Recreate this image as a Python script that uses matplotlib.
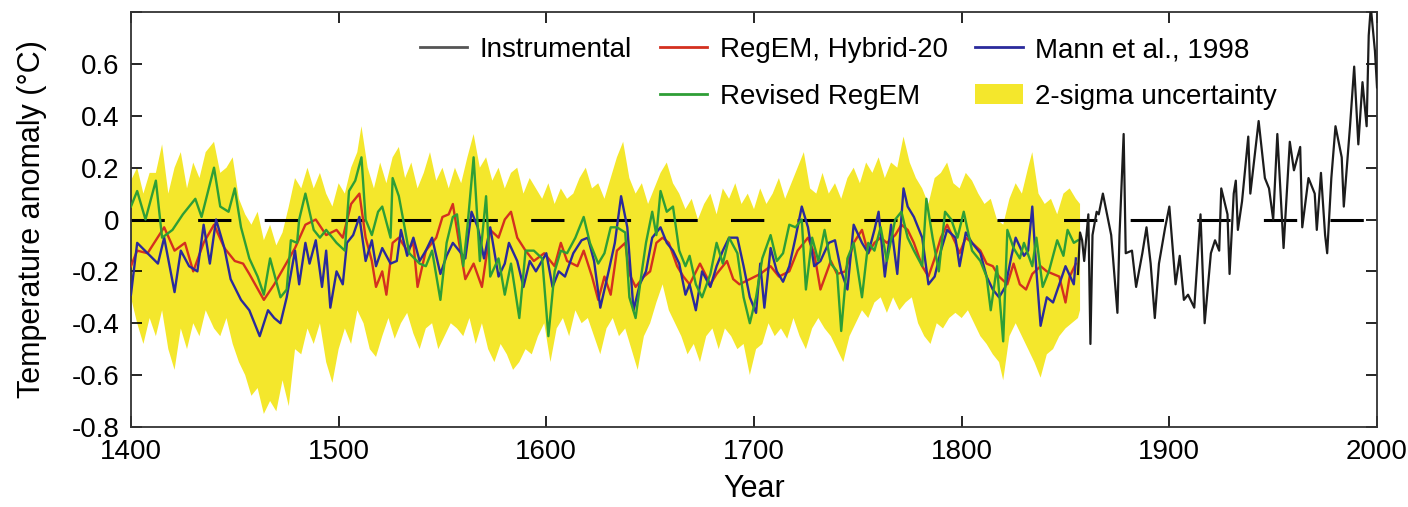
import numpy as np
import matplotlib
matplotlib.use("Agg")
import matplotlib.pyplot as plt
from matplotlib.lines import Line2D
from matplotlib.patches import Patch

plt.rcParams['font.family'] = ['Liberation Sans', 'DejaVu Sans']

# (year, anomaly) pairs
mann_1998 = [
    (1400, -0.29), (1403, -0.09), (1408, -0.13), (1413, -0.17), (1416, -0.07), (1421, -0.28),
    (1424, -0.12), (1428, -0.18), (1432, -0.20), (1435, -0.02), (1438, -0.17), (1441, 0.00),
    (1445, -0.11), (1448, -0.23), (1453, -0.31), (1457, -0.35), (1462, -0.45), (1466, -0.35),
    (1469, -0.38), (1472, -0.40), (1475, -0.30), (1479, -0.12), (1481, -0.25), (1484, -0.09),
    (1486, -0.17), (1489, -0.08), (1492, -0.26), (1494, -0.12), (1496, -0.34), (1499, -0.20),
    (1502, -0.25), (1504, -0.09), (1507, -0.06), (1510, 0.01), (1513, -0.16), (1516, -0.08),
    (1518, -0.18), (1521, -0.11), (1525, -0.17), (1528, -0.16), (1530, -0.04), (1533, -0.14),
    (1536, -0.07), (1539, -0.16), (1542, -0.12), (1545, -0.07), (1549, -0.21), (1552, -0.14),
    (1555, -0.09), (1558, -0.12), (1561, -0.15), (1564, 0.03), (1567, -0.03), (1570, -0.15),
    (1573, -0.03), (1577, -0.22), (1580, -0.17), (1582, -0.09), (1586, -0.16), (1589, -0.26),
    (1592, -0.16), (1595, -0.20), (1600, -0.13), (1603, -0.26), (1606, -0.20), (1609, -0.22),
    (1613, -0.13), (1617, -0.08), (1620, -0.07), (1623, -0.16), (1626, -0.34), (1630, -0.20),
    (1633, -0.09), (1636, 0.09), (1639, -0.03), (1642, -0.35), (1645, -0.25), (1648, -0.20),
    (1651, -0.07), (1655, -0.03), (1658, -0.09), (1661, -0.12), (1664, -0.17), (1667, -0.29),
    (1669, -0.25), (1672, -0.35), (1675, -0.20), (1679, -0.26), (1682, -0.18), (1685, -0.12),
    (1688, -0.07), (1692, -0.07), (1695, -0.18), (1698, -0.30), (1701, -0.36), (1703, -0.17),
    (1705, -0.34), (1708, -0.11), (1711, -0.20), (1714, -0.24), (1717, -0.18), (1720, -0.07),
    (1723, 0.05), (1726, -0.03), (1729, -0.18), (1732, -0.16), (1736, -0.09), (1739, -0.08),
    (1742, -0.20), (1745, -0.27), (1748, -0.02), (1752, -0.09), (1755, -0.13), (1758, -0.04),
    (1760, 0.03), (1763, -0.22), (1766, -0.02), (1769, -0.21), (1772, 0.12), (1774, 0.05),
    (1777, 0.01), (1781, -0.07), (1784, -0.25), (1787, -0.22), (1790, -0.12), (1793, -0.04),
    (1797, -0.07), (1799, -0.18), (1802, -0.05), (1805, -0.09), (1809, -0.13), (1812, -0.22),
    (1815, -0.27), (1818, -0.30), (1821, -0.26), (1824, -0.14), (1826, -0.07), (1830, -0.14),
    (1832, -0.12), (1834, 0.05), (1836, -0.20), (1838, -0.41), (1841, -0.30), (1844, -0.32),
    (1847, -0.25), (1850, -0.18), (1854, -0.25), (1855, -0.15),
]

regem_h20 = [
    (1400, -0.18), (1403, -0.12), (1408, -0.13), (1412, -0.08), (1416, -0.03), (1421, -0.12),
    (1426, -0.09), (1430, -0.20), (1435, -0.09), (1440, -0.02), (1445, -0.11), (1450, -0.16),
    (1454, -0.17), (1457, -0.21), (1464, -0.31), (1469, -0.25), (1474, -0.18), (1479, -0.11),
    (1484, -0.02), (1489, 0.00), (1494, -0.06), (1499, -0.04), (1502, -0.07), (1506, 0.06),
    (1510, 0.10), (1513, -0.07), (1516, -0.16), (1518, -0.26), (1521, -0.20), (1523, -0.29),
    (1526, -0.09), (1529, -0.07), (1533, -0.12), (1536, -0.09), (1538, -0.26), (1542, -0.12),
    (1547, -0.07), (1550, 0.01), (1553, 0.02), (1555, 0.06), (1558, -0.09), (1561, -0.23),
    (1565, -0.17), (1569, -0.26), (1573, -0.04), (1577, -0.07), (1580, 0.00), (1583, 0.03),
    (1586, -0.07), (1590, -0.12), (1594, -0.16), (1599, -0.13), (1604, -0.18), (1607, -0.09),
    (1610, -0.16), (1615, -0.18), (1618, -0.12), (1622, -0.22), (1625, -0.31), (1628, -0.22),
    (1631, -0.29), (1634, -0.12), (1638, -0.09), (1640, -0.21), (1643, -0.26), (1647, -0.22),
    (1650, -0.20), (1653, -0.09), (1656, -0.07), (1659, -0.09), (1663, -0.18), (1666, -0.22),
    (1669, -0.25), (1674, -0.17), (1679, -0.25), (1682, -0.21), (1687, -0.16), (1690, -0.23),
    (1693, -0.25), (1698, -0.23), (1703, -0.21), (1708, -0.18), (1712, -0.22), (1717, -0.20),
    (1721, -0.12), (1726, -0.07), (1729, -0.13), (1732, -0.27), (1737, -0.16), (1740, -0.21),
    (1744, -0.20), (1748, -0.09), (1752, -0.04), (1755, -0.13), (1758, -0.09), (1761, -0.07),
    (1764, -0.09), (1768, -0.06), (1771, -0.02), (1774, -0.04), (1777, -0.09), (1781, -0.18),
    (1784, -0.22), (1787, -0.15), (1790, -0.07), (1793, -0.02), (1797, -0.09), (1799, -0.13),
    (1802, -0.07), (1805, -0.09), (1809, -0.12), (1812, -0.17), (1815, -0.18), (1818, -0.22),
    (1822, -0.25), (1825, -0.17), (1828, -0.25), (1831, -0.27), (1834, -0.21), (1838, -0.18),
    (1841, -0.20), (1844, -0.21), (1847, -0.22), (1850, -0.32), (1852, -0.22), (1855, -0.17),
]

regem_revised = [
    (1400, 0.05), (1403, 0.11), (1407, 0.00), (1412, 0.15), (1415, -0.07), (1420, -0.04),
    (1425, 0.02), (1431, 0.08), (1434, 0.01), (1440, 0.20), (1443, 0.05), (1447, 0.03),
    (1450, 0.12), (1453, -0.03), (1457, -0.15), (1461, -0.22), (1464, -0.29), (1467, -0.15),
    (1472, -0.30), (1475, -0.27), (1477, -0.08), (1480, -0.09), (1481, 0.00), (1484, 0.10),
    (1488, -0.04), (1491, -0.07), (1494, -0.04), (1499, -0.09), (1503, -0.12), (1505, 0.11),
    (1508, 0.15), (1511, 0.24), (1513, 0.00), (1516, -0.06), (1519, 0.03), (1521, 0.05),
    (1525, -0.07), (1526, 0.16), (1529, 0.09), (1532, -0.04), (1534, -0.13), (1539, -0.17),
    (1542, -0.18), (1545, -0.12), (1549, -0.31), (1552, -0.09), (1555, 0.01), (1557, 0.02),
    (1560, -0.18), (1562, -0.03), (1565, 0.24), (1568, -0.16), (1571, 0.09), (1573, -0.22),
    (1577, -0.15), (1580, -0.29), (1583, -0.17), (1587, -0.38), (1590, -0.12), (1594, -0.12),
    (1598, -0.15), (1601, -0.45), (1604, -0.20), (1607, -0.12), (1610, -0.13), (1614, -0.07),
    (1618, 0.01), (1621, -0.09), (1625, -0.17), (1628, -0.13), (1631, -0.03), (1634, -0.03),
    (1638, -0.05), (1640, -0.30), (1643, -0.38), (1646, -0.20), (1648, -0.09), (1651, 0.03),
    (1653, -0.06), (1655, 0.11), (1658, 0.03), (1661, 0.05), (1664, -0.12), (1667, -0.18),
    (1669, -0.14), (1672, -0.25), (1675, -0.30), (1679, -0.21), (1682, -0.09), (1685, -0.17),
    (1688, -0.07), (1692, -0.13), (1695, -0.30), (1698, -0.40), (1701, -0.30), (1704, -0.15),
    (1708, -0.06), (1711, -0.16), (1714, -0.13), (1717, -0.02), (1720, -0.03), (1723, 0.00),
    (1725, -0.27), (1728, -0.07), (1731, -0.16), (1734, -0.04), (1737, -0.17), (1740, -0.20),
    (1742, -0.43), (1745, -0.15), (1748, -0.09), (1752, -0.30), (1755, -0.09), (1758, -0.12),
    (1761, -0.03), (1764, -0.16), (1768, 0.00), (1771, 0.03), (1774, -0.07), (1777, -0.12),
    (1781, -0.18), (1783, 0.08), (1786, -0.07), (1789, -0.20), (1792, 0.03), (1795, 0.00),
    (1798, -0.07), (1801, 0.03), (1805, -0.12), (1809, -0.16), (1812, -0.22), (1814, -0.35),
    (1817, -0.18), (1820, -0.47), (1822, -0.04), (1825, -0.11), (1828, -0.15), (1830, -0.09),
    (1834, -0.18), (1836, -0.07), (1839, -0.26), (1842, -0.20), (1846, -0.08), (1849, -0.14),
    (1851, -0.04), (1854, -0.09), (1856, -0.08),
]

instrumental = [
    (1856, -0.21), (1857, -0.05), (1858, -0.08), (1859, -0.16), (1861, 0.02), (1862, -0.48),
    (1863, -0.06), (1865, 0.03), (1866, 0.02), (1868, 0.10), (1870, 0.02), (1872, -0.06),
    (1875, -0.36), (1876, -0.06), (1878, 0.33), (1879, -0.13), (1882, -0.12), (1884, -0.26),
    (1887, -0.13), (1889, -0.03), (1891, -0.17), (1893, -0.38), (1895, -0.17), (1898, -0.03),
    (1900, 0.05), (1903, -0.25), (1905, -0.14), (1907, -0.31), (1909, -0.29), (1912, -0.34),
    (1915, 0.02), (1917, -0.40), (1920, -0.13), (1922, -0.08), (1924, -0.12), (1925, 0.12),
    (1928, 0.02), (1929, -0.21), (1931, 0.10), (1932, 0.15), (1933, -0.04), (1935, 0.07),
    (1938, 0.32), (1939, 0.10), (1943, 0.38), (1946, 0.16), (1948, 0.12), (1950, 0.00),
    (1952, 0.33), (1955, -0.11), (1958, 0.30), (1960, 0.19), (1963, 0.28), (1964, -0.03),
    (1967, 0.16), (1970, 0.10), (1971, -0.04), (1973, 0.18), (1975, -0.06), (1976, -0.13),
    (1978, 0.16), (1980, 0.36), (1983, 0.24), (1984, 0.05), (1987, 0.36), (1989, 0.59),
    (1991, 0.29), (1993, 0.53), (1995, 0.36), (1996, 0.71), (1997, 0.82), (1999, 0.65),
    (2000, 0.51),
]

# 2-sigma envelope
sigma_upper = [
    (1400, 0.15), (1403, 0.20), (1406, 0.10), (1409, 0.18), (1412, 0.18), (1415, 0.29),
    (1418, 0.10), (1421, 0.20), (1424, 0.26), (1427, 0.12), (1430, 0.22), (1433, 0.16),
    (1436, 0.26), (1440, 0.30), (1443, 0.18), (1446, 0.20), (1449, 0.24), (1452, 0.08),
    (1455, 0.02), (1458, -0.02), (1461, 0.03), (1464, -0.08), (1467, -0.02), (1470, -0.10),
    (1473, -0.05), (1476, 0.05), (1479, 0.16), (1482, 0.12), (1485, 0.20), (1488, 0.12),
    (1491, 0.18), (1494, 0.10), (1497, 0.05), (1500, 0.14), (1503, 0.10), (1506, 0.20),
    (1509, 0.26), (1511, 0.36), (1514, 0.20), (1517, 0.12), (1520, 0.22), (1523, 0.14),
    (1526, 0.24), (1529, 0.28), (1532, 0.16), (1535, 0.22), (1538, 0.12), (1541, 0.18),
    (1544, 0.26), (1547, 0.15), (1550, 0.20), (1553, 0.12), (1556, 0.20), (1559, 0.14),
    (1562, 0.24), (1565, 0.33), (1568, 0.20), (1571, 0.24), (1574, 0.15), (1577, 0.20),
    (1580, 0.12), (1583, 0.18), (1586, 0.20), (1589, 0.10), (1592, 0.16), (1595, 0.12),
    (1598, 0.08), (1601, 0.14), (1604, 0.06), (1607, 0.12), (1610, 0.08), (1613, 0.10),
    (1616, 0.16), (1619, 0.20), (1622, 0.12), (1625, 0.14), (1628, 0.08), (1631, 0.16),
    (1634, 0.24), (1637, 0.30), (1640, 0.16), (1643, 0.10), (1646, 0.14), (1649, 0.06),
    (1652, 0.12), (1655, 0.18), (1658, 0.22), (1661, 0.14), (1664, 0.10), (1667, 0.04),
    (1670, 0.08), (1673, 0.00), (1676, 0.06), (1679, 0.10), (1682, 0.02), (1685, 0.12),
    (1688, 0.08), (1691, 0.14), (1694, 0.06), (1697, 0.10), (1700, 0.04), (1703, 0.12),
    (1706, 0.06), (1709, 0.10), (1712, 0.16), (1715, 0.08), (1718, 0.14), (1721, 0.20),
    (1724, 0.26), (1727, 0.12), (1730, 0.10), (1733, 0.18), (1736, 0.10), (1739, 0.14),
    (1742, 0.08), (1745, 0.16), (1748, 0.20), (1751, 0.14), (1754, 0.22), (1757, 0.18),
    (1760, 0.24), (1763, 0.16), (1766, 0.22), (1769, 0.20), (1772, 0.32), (1775, 0.22),
    (1778, 0.16), (1781, 0.12), (1784, 0.06), (1787, 0.16), (1790, 0.18), (1793, 0.22),
    (1796, 0.14), (1799, 0.12), (1802, 0.18), (1805, 0.15), (1808, 0.10), (1811, 0.06),
    (1814, 0.08), (1817, 0.00), (1820, -0.02), (1823, 0.08), (1826, 0.14), (1829, 0.10),
    (1832, 0.20), (1834, 0.26), (1837, 0.10), (1840, 0.06), (1843, 0.08), (1846, 0.02),
    (1849, 0.10), (1852, 0.12), (1855, 0.08), (1857, 0.06),
]

sigma_lower = [
    (1400, -0.30), (1403, -0.40), (1406, -0.48), (1409, -0.38), (1412, -0.45), (1415, -0.35),
    (1418, -0.50), (1421, -0.58), (1424, -0.42), (1427, -0.50), (1430, -0.40), (1433, -0.45),
    (1436, -0.35), (1440, -0.42), (1443, -0.45), (1446, -0.38), (1449, -0.48), (1452, -0.55),
    (1455, -0.60), (1458, -0.68), (1461, -0.65), (1464, -0.75), (1467, -0.70), (1470, -0.74),
    (1473, -0.62), (1476, -0.72), (1479, -0.50), (1482, -0.52), (1485, -0.42), (1488, -0.48),
    (1491, -0.40), (1494, -0.55), (1497, -0.63), (1500, -0.50), (1503, -0.42), (1506, -0.48),
    (1509, -0.35), (1512, -0.40), (1515, -0.50), (1518, -0.53), (1521, -0.45), (1524, -0.38),
    (1527, -0.46), (1530, -0.40), (1533, -0.36), (1536, -0.44), (1539, -0.50), (1542, -0.42),
    (1545, -0.40), (1548, -0.50), (1551, -0.45), (1554, -0.40), (1557, -0.42), (1560, -0.45),
    (1563, -0.38), (1566, -0.48), (1569, -0.40), (1572, -0.50), (1575, -0.55), (1578, -0.48),
    (1581, -0.52), (1584, -0.58), (1587, -0.55), (1590, -0.50), (1593, -0.52), (1596, -0.45),
    (1599, -0.40), (1602, -0.55), (1605, -0.42), (1608, -0.38), (1611, -0.45), (1614, -0.35),
    (1617, -0.40), (1620, -0.38), (1623, -0.45), (1626, -0.52), (1629, -0.42), (1632, -0.38),
    (1635, -0.45), (1638, -0.42), (1641, -0.50), (1644, -0.58), (1647, -0.45), (1650, -0.40),
    (1653, -0.32), (1656, -0.25), (1659, -0.35), (1662, -0.40), (1665, -0.45), (1668, -0.52),
    (1671, -0.48), (1674, -0.55), (1677, -0.45), (1680, -0.42), (1683, -0.50), (1686, -0.42),
    (1689, -0.45), (1692, -0.50), (1695, -0.48), (1698, -0.60), (1701, -0.50), (1704, -0.48),
    (1707, -0.40), (1710, -0.45), (1713, -0.42), (1716, -0.46), (1719, -0.38), (1722, -0.45),
    (1725, -0.50), (1728, -0.42), (1731, -0.38), (1734, -0.42), (1737, -0.45), (1740, -0.50),
    (1743, -0.55), (1746, -0.45), (1749, -0.40), (1752, -0.35), (1755, -0.38), (1758, -0.32),
    (1761, -0.30), (1764, -0.36), (1767, -0.30), (1770, -0.35), (1773, -0.32), (1776, -0.30),
    (1779, -0.40), (1782, -0.45), (1785, -0.48), (1788, -0.40), (1791, -0.42), (1794, -0.38),
    (1797, -0.36), (1800, -0.38), (1803, -0.35), (1806, -0.40), (1809, -0.45), (1812, -0.48),
    (1815, -0.52), (1818, -0.55), (1820, -0.62), (1823, -0.45), (1826, -0.40), (1829, -0.45),
    (1832, -0.50), (1835, -0.55), (1838, -0.61), (1841, -0.52), (1844, -0.50), (1847, -0.45),
    (1850, -0.42), (1853, -0.40), (1856, -0.38), (1857, -0.35),
]

y_ticks = [-0.8, -0.6, -0.4, -0.2, 0, 0.2, 0.4, 0.6, 0.8]
y_ticklabels = ['-0.8', '-0.6', '-0.4', '-0.2', '0', '0.2', '0.4', '0.6', '']
x_ticks = [1400, 1500, 1600, 1700, 1800, 1900, 2000]

YELLOW = '#f4e72c'
RED = '#d4301f'
GREEN = '#2e9e36'
BLUE = '#2a2a9c'
BLACK = '#1c1c1c'


def xy(pairs):
    a = np.array(pairs, dtype=float)
    return a[:, 0], a[:, 1]


fig = plt.figure(figsize=(14.08, 5.07), dpi=100)
ax = fig.add_axes([0.093, 0.158, 0.885, 0.818])

# uncertainty band as a closed polygon
ux, uy = xy(sigma_upper)
lx, ly = xy(sigma_lower)
ax.fill(np.concatenate([ux, lx[::-1]]), np.concatenate([uy, ly[::-1]]),
        color=YELLOW, lw=0, zorder=1)

ax.plot([1400, 2000], [0, 0], color='black', lw=2.2,
        linestyle=(0, (10.9, 10.9)), zorder=2)

for data, col in [(regem_h20, RED), (mann_1998, BLUE), (regem_revised, GREEN)]:
    x, y = xy(data)
    ax.plot(x, y, color=col, lw=1.7, zorder=3)

x, y = xy(instrumental)
ax.plot(x, y, color=BLACK, lw=1.6, zorder=4)

ax.set_xlim(1400, 2000)
ax.set_ylim(-0.8, 0.8)
ax.set_xticks(x_ticks)
ax.set_yticks(y_ticks, y_ticklabels)
ax.tick_params(direction='in', length=8, width=1.2, top=True, right=True,
               labelsize=20)
ax.tick_params(axis='x', pad=9)
ax.tick_params(axis='y', pad=8)
for s in ax.spines.values():
    s.set_linewidth(1.3)
    s.set_color('#333333')

ax.set_xlabel('Year', fontsize=22, labelpad=6)
ax.set_ylabel('Temperature anomaly (\u00b0C)', fontsize=22, labelpad=18)

handles = [
    Line2D([], [], color='#555555', lw=2),
    Line2D([], [], color='none'),
    Line2D([], [], color=RED, lw=2),
    Line2D([], [], color=GREEN, lw=2),
    Line2D([], [], color=BLUE, lw=2),
    Patch(facecolor=YELLOW, edgecolor='none'),
]
labels = ['Instrumental', '', 'RegEM, Hybrid-20', 'Revised RegEM',
          'Mann et al., 1998', '2-sigma uncertainty']
ax.legend(handles, labels, ncol=3, loc='upper left', bbox_to_anchor=(0.232, 0.94),
          frameon=False, fontsize=20, handlelength=1.7, handletextpad=0.45,
          columnspacing=1.0, labelspacing=0.75, borderaxespad=0, borderpad=0)

fig.savefig('out.png', dpi=100)
